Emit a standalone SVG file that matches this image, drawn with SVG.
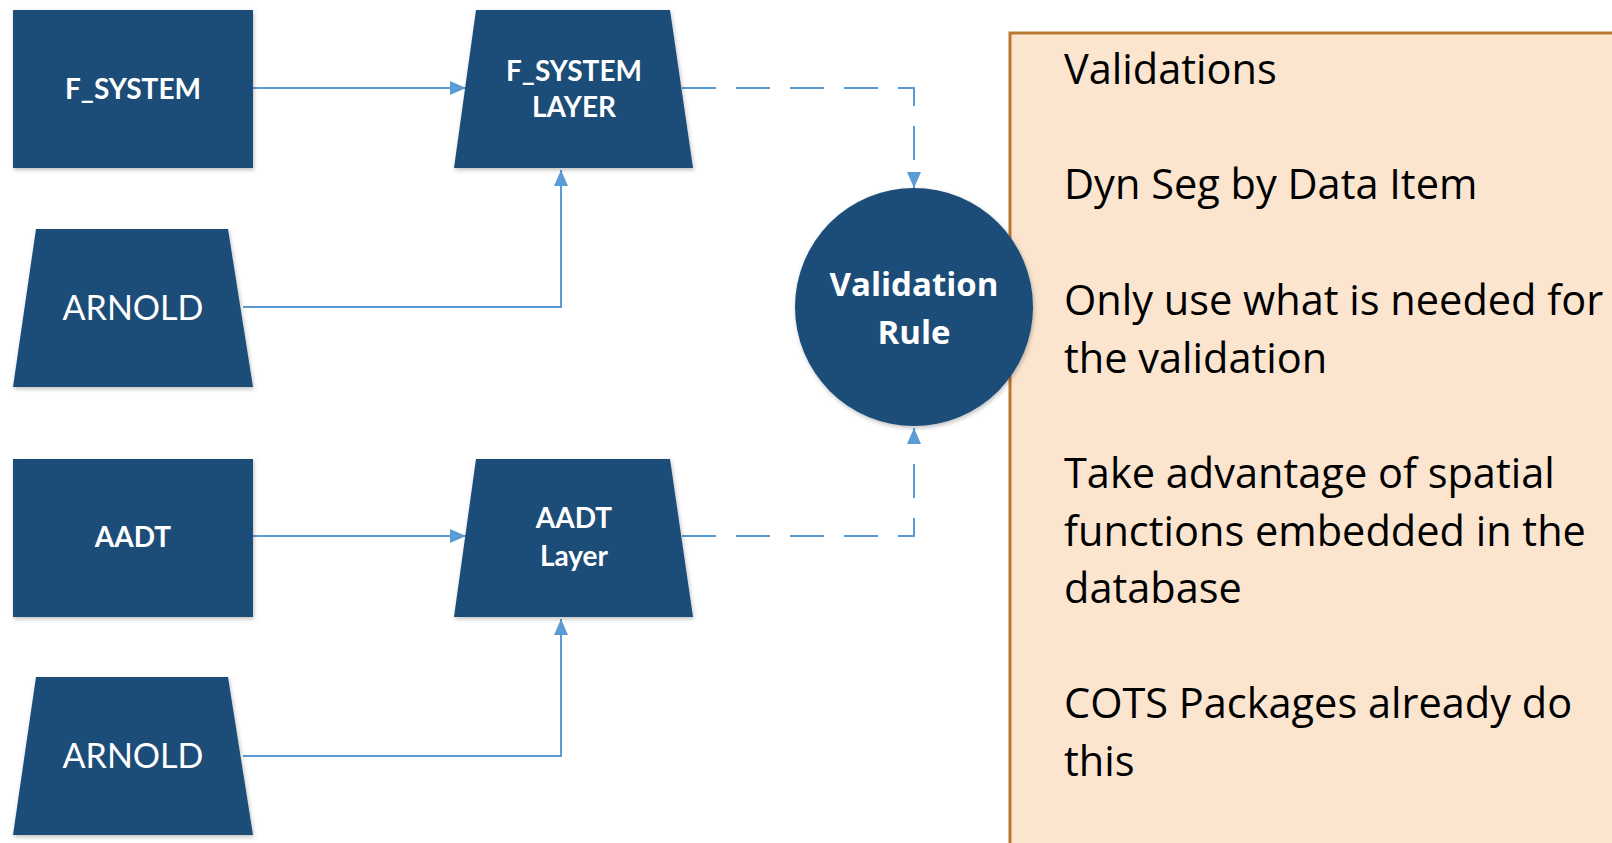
<svg xmlns="http://www.w3.org/2000/svg" width="1612" height="843" viewBox="0 0 1612 843">
<defs>
<style>
.node{fill:#1f4e79;filter:url(#sh)}
.lbl{fill:#ffffff;font-family:Lato,"Open Sans",sans-serif;text-anchor:middle}
.b{font-weight:700;font-size:28px}
.r{font-weight:400;font-size:34px}
.conn{fill:none;stroke:#5b9bd5;stroke-width:2}
.dash{stroke-dasharray:34 20}
.ptxt{fill:#000000;font-family:"Open Sans","DejaVu Sans",sans-serif;font-size:41.5px}
.ctxt{fill:#ffffff;font-family:"Open Sans","DejaVu Sans",sans-serif;font-size:33px;font-weight:700;text-anchor:middle}
</style>
<filter id="sh" x="-10%" y="-10%" width="130%" height="130%">
<feDropShadow dx="1" dy="2" stdDeviation="2" flood-color="#000000" flood-opacity="0.25"/>
</filter>
<marker id="ah" viewBox="0 0 10 10" refX="10" refY="5" markerWidth="16" markerHeight="14" markerUnits="userSpaceOnUse" orient="auto" preserveAspectRatio="none">
<path d="M0,0 L10,5 L0,10 z" fill="#5b9bd5"/>
</marker>
</defs>
<rect width="1612" height="843" fill="#ffffff"/>

<g id="panel">
<rect x="1010" y="33" width="640" height="850" fill="#fbe5cf" stroke="#bb7632" stroke-width="3"/>
<text class="ptxt" x="1064" y="84">Validations</text>
<text class="ptxt" x="1064" y="199">Dyn Seg by Data Item</text>
<text class="ptxt" x="1064" y="315">Only use what is needed for</text>
<text class="ptxt" x="1064" y="373">the validation</text>
<text class="ptxt" x="1064" y="488">Take advantage of spatial</text>
<text class="ptxt" x="1064" y="546">functions embedded in the</text>
<text class="ptxt" x="1064" y="603">database</text>
<text class="ptxt" x="1064" y="718">COTS Packages already do</text>
<text class="ptxt" x="1064" y="776">this</text>
</g>

<g id="connectors">
<path class="conn" d="M253,88 H466" marker-end="url(#ah)"/>
<path class="conn" d="M243,307 H561 V170" marker-end="url(#ah)"/>
<path class="conn dash" d="M682,88 H914 V188" marker-end="url(#ah)"/>
<path class="conn" d="M253,536 H466" marker-end="url(#ah)"/>
<path class="conn" d="M243,756 H561 V619" marker-end="url(#ah)"/>
<path class="conn dash" d="M682,536 H914 V428" marker-end="url(#ah)"/>
</g>

<g id="fsystem">
<rect class="node" x="13" y="10" width="240" height="158"/>
<text class="lbl b" x="133" y="99">F_SYSTEM</text>
</g>
<g id="fsystem-layer">
<polygon class="node" points="476,10 670,10 693,168 454,168"/>
<text class="lbl b" x="574" y="81">F_SYSTEM</text>
<text class="lbl b" x="574" y="117">LAYER</text>
</g>
<g id="arnold1">
<polygon class="node" points="36,229 228,229 253,387 13,387"/>
<text class="lbl r" x="133" y="320">ARNOLD</text>
</g>
<g id="aadt">
<rect class="node" x="13" y="459" width="240" height="158"/>
<text class="lbl b" x="133" y="547">AADT</text>
</g>
<g id="aadt-layer">
<polygon class="node" points="476,459 670,459 693,617 454,617"/>
<text class="lbl b" x="574" y="528">AADT</text>
<text class="lbl b" x="574" y="566">Layer</text>
</g>
<g id="arnold2">
<polygon class="node" points="36,677 228,677 253,835 13,835"/>
<text class="lbl r" x="133" y="768">ARNOLD</text>
</g>
<g id="validation-rule">
<circle class="node" cx="914" cy="307" r="119"/>
<text class="ctxt" x="914" y="296">Validation</text>
<text class="ctxt" x="914" y="344">Rule</text>
</g>
</svg>
